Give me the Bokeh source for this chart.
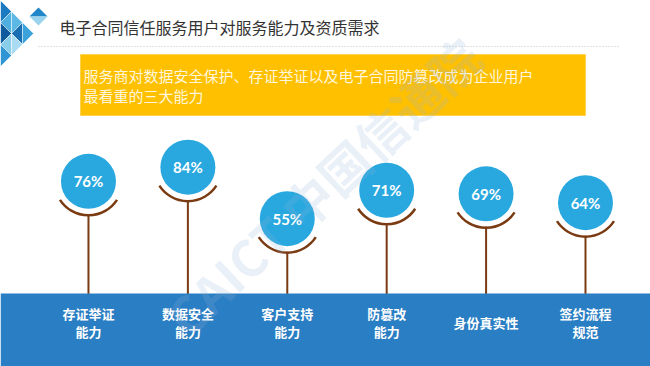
import numpy as np
from bokeh.plotting import figure
from bokeh.models import Range1d, ColumnDataSource
from bokeh.core.properties import value
from bokeh.embed import file_html
from bokeh.resources import INLINE

# ---------------- data ----------------
title_text = "电子合同信任服务用户对服务能力及资质需求"
banner_text = "服务商对数据安全保护、存证举证以及电子合同防篡改成为企业用户\n最看重的三大能力"
categories = ["存证举证\n能力", "数据安全\n能力", "客户支持\n能力", "防篡改\n能力", "身份真实性", "签约流程\n规范"]
shares = [76, 84, 55, 71, 69, 64]
share_labels = [f"{v}%" for v in shares]
watermark = "CAICT 中国信通院"

CJK = "Noto Sans CJK SC"
CIRCLE_BLUE = "#29A8E0"
BAND_BLUE = "#2A7EC3"
BROWN = "#7A3B12"
YELLOW = "#FFC000"

p = figure(width=650, height=366,
           x_range=Range1d(0, 650), y_range=Range1d(366, 0),
           x_axis_location=None, y_axis_location=None,
           output_backend="svg", toolbar_location=None, min_border=0)
p.grid.visible = False
p.outline_line_color = None
p.background_fill_color = "white"
p.border_fill_color = "white"
p.extra_x_ranges = {"idx": Range1d(-0.885, 5.654)}
p.extra_y_ranges = {"pct": Range1d(-28.3, 177.9)}

src = ColumnDataSource(dict(x=np.arange(len(shares)), v=shares,
                            lab=share_labels, cat=categories,
                            base=[p.extra_y_ranges["pct"].start] * len(shares)))

# ---------------- header decoration ----------------
A = np.array([0.0, 0.0]); B = np.array([33.0, 33.0]); C = np.array([0.0, 66.0])
n = 3
tri_colors = ["#1C7BC0", "#4FB0E0", "#0E5C9E", "#8ACDEB", "#2F96D3",
              "#5CB8E4", "#1A6FB2", "#A9DCF2", "#3BA3DA"]
xs, ys = [], []
for i in range(n):
    for j in range(n - i):
        def P(a, b):
            return A + (B - A) * a / n + (C - A) * b / n
        t1 = [P(i, j), P(i + 1, j), P(i, j + 1)]
        xs.append([q[0] for q in t1]); ys.append([q[1] for q in t1])
        if j < n - i - 1:
            t2 = [P(i + 1, j), P(i + 1, j + 1), P(i, j + 1)]
            xs.append([q[0] for q in t2]); ys.append([q[1] for q in t2])
cols = [tri_colors[m % len(tri_colors)] for m in range(len(xs))]
p.patches(xs, ys, fill_color=cols, line_color="white", line_width=0.5)
p.patches([[29, 38, 47], [29, 38, 47]], [[16, 7, 16], [16, 25, 16]],
          fill_color=["#1F86C8", "#9AD3EE"], line_color=None)

p.text(x=[59], y=[26], text=[title_text], text_font=value(CJK),
       text_font_size="16px", text_color="#333333", text_baseline="middle")
p.segment(x0=[38], y0=[46], x1=[618], y1=[46], line_color="#C4C4C4",
          line_width=1, line_dash="1 2")

# banner
p.quad(left=[80], right=[585], top=[54], bottom=[115], fill_color=YELLOW,
       line_color="#FFD24D", line_width=1)
p.text(x=[83], y=[85], text=[banner_text], text_font=value(CJK),
       text_font_size="15px", text_color="#FFF6DC", text_baseline="middle",
       text_line_height=0.95)

# ---------------- stems, band, circles ----------------
p.segment(x0="x", y0="v", x1="x", y1="base", source=src, line_color=BROWN,
          line_width=2, x_range_name="idx", y_range_name="pct")
p.quad(left=[0], right=[650], top=[293], bottom=[366], fill_color=BAND_BLUE,
       line_color=None)
p.scatter(x="x", y="v", source=src, size=66, fill_color="white", line_color=None,
          x_range_name="idx", y_range_name="pct")
p.arc(x="x", y="v", radius=34, radius_units="screen", start_angle=213,
      end_angle=327, start_angle_units="deg", end_angle_units="deg",
      source=src, line_color=BROWN, line_width=2.5,
      x_range_name="idx", y_range_name="pct")
p.scatter(x="x", y="v", source=src, size=55, fill_color=CIRCLE_BLUE,
          line_color=None, x_range_name="idx", y_range_name="pct")
p.text(x="x", y="v", text="lab", source=src, text_font=value("Lato"),
       text_font_style="bold", text_font_size="15px", text_color="white",
       text_align="center", text_baseline="middle",
       x_range_name="idx", y_range_name="pct")

# category labels in the band
p.text(x="x", y=322, text="cat", source=src, text_font=value(CJK),
       text_font_style="bold", text_font_size="13px", text_color="white",
       text_align="center", text_baseline="middle", text_line_height=0.97,
       x_range_name="idx")

# watermark
p.text(x=[322], y=[185], text=[watermark], angle=43, angle_units="deg",
       text_font=value(CJK), text_font_style="bold", text_font_size="50px",
       text_color="#8FB3D6", text_alpha=0.2, text_align="center",
       text_baseline="middle")

open("out.html", "w").write(file_html(p, INLINE))
